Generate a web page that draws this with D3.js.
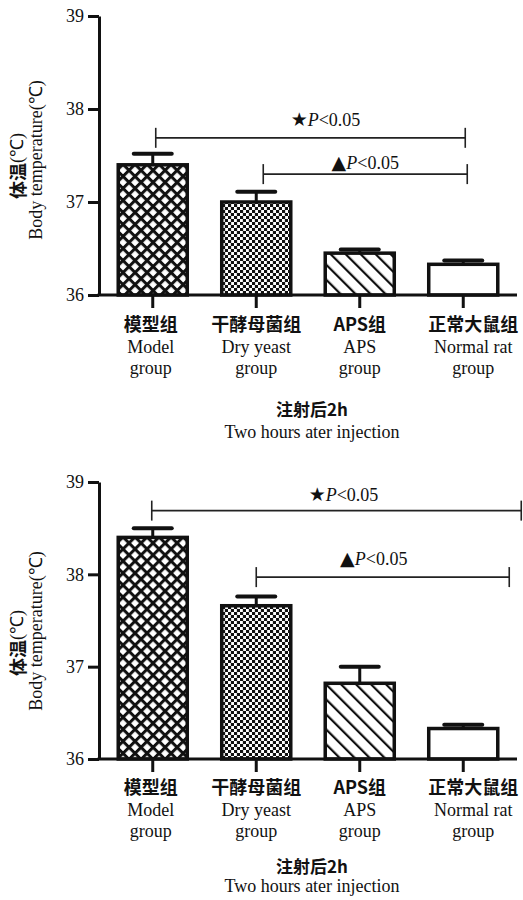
<!DOCTYPE html>
<html><head><meta charset="utf-8">
<script src="https://cdn.jsdelivr.net/npm/d3@7"></script>
<style>body{margin:0;background:#fff} svg{display:block}</style>
</head><body><svg id="c" width="523" height="900"></svg>
<script>
// ---------- data ----------
const groupKeys = ["Model", "Dry yeast", "APS", "Normal rat"];
const groupsCN = ["模型组", "干酵母菌组", "APS组", "正常大鼠组"];
const groupsEN1 = ["Model", "Dry yeast", "APS", "Normal rat"];
const groupsEN2 = ["group", "group", "group", "group"];
const yTicks = [36, 37, 38, 39];
const meansTop = [37.40, 37.00, 36.45, 36.33];
const errTop = [0.12, 0.11, 0.04, 0.04];
const meansBottom = [38.40, 37.66, 36.82, 36.33];
const errBottom = [0.10, 0.10, 0.18, 0.04];
const bracketsTop = [
  {from: "Model", to: "Normal rat", y: 37.69, sym: "★", label: "P", rest: "<0.05"},
  {from: "Dry yeast", to: "Normal rat", y: 37.30, sym: "▲", label: "P", rest: "<0.05"}
];
const bracketsBottom = [
  {from: "Model", to: "Normal rat", y: 38.69, sym: "★", label: "P", rest: "<0.05"},
  {from: "Dry yeast", to: "Normal rat", y: 37.97, sym: "▲", label: "P", rest: "<0.05"}
];
const xTitleCN = "注射后2h";
const xTitleEN = "Two hours ater injection";
const yTitleCN = "体温";
const yTitleUnit = "(℃)";
const yTitleEN = "Body temperature(℃)";

// ---------- layout ----------
const svg = d3.select("#c");
const serif = "'Liberation Serif','Times New Roman',serif";
const cjk = "'Noto Sans CJK SC','Liberation Serif',serif";
const ink = "#111";

const defs = svg.append("defs");
// diamond crosshatch
const p1 = defs.append("pattern").attr("id", "pDiamond").attr("patternUnits", "userSpaceOnUse")
  .attr("width", 8.5).attr("height", 8.5).attr("patternTransform", "translate(117,0) rotate(45)");
p1.append("rect").attr("width", 8.5).attr("height", 8.5).attr("fill", "#fff");
p1.append("rect").attr("width", 8.5).attr("height", 3).attr("fill", ink);
p1.append("rect").attr("width", 3).attr("height", 8.5).attr("fill", ink);
// fine checkerboard
const p2 = defs.append("pattern").attr("id", "pCheck").attr("patternUnits", "userSpaceOnUse")
  .attr("width", 6).attr("height", 6);
p2.append("rect").attr("width", 6).attr("height", 6).attr("fill", "#fff");
p2.append("rect").attr("width", 3).attr("height", 3).attr("fill", ink);
p2.append("rect").attr("x", 3).attr("y", 3).attr("width", 3).attr("height", 3).attr("fill", ink);
p2.append("rect").attr("x", 2.6).attr("y", 0).attr("width", 0.8).attr("height", 6).attr("fill", ink).attr("opacity", 0.35);
// diagonal hatch "\"
const p3 = defs.append("pattern").attr("id", "pHatch").attr("patternUnits", "userSpaceOnUse")
  .attr("width", 10.6).attr("height", 10.6).attr("patternTransform", "rotate(-45)");
p3.append("rect").attr("width", 10.6).attr("height", 10.6).attr("fill", "#fff");
p3.append("rect").attr("width", 2.2).attr("height", 10.6).attr("fill", ink);

const fills = ["url(#pDiamond)", "url(#pCheck)", "url(#pHatch)", "#fff"];

const x = d3.scaleBand().domain(groupKeys).range([101, 515]).paddingInner(0.333).paddingOuter(0.1665);

const charts = [
  {means: meansTop, errs: errTop, brackets: bracketsTop, yRange: [295, 16],
   bdx: [[3, 2, 15, -12], [7, 4, 0, -5]], rows: [36, 58, 79], titles: [121, 143], yMid: [160, 166]},
  {means: meansBottom, errs: errBottom, brackets: bracketsBottom, yRange: [759, 482],
   bdx: [[-1, 58, 7, -10], [0, 46, -9, -12]], rows: [35, 57, 78], titles: [114, 133], yMid: [631, 643]}
];

charts.forEach(cfg => {
  const y = d3.scaleLinear().domain([36, 39]).range(cfg.yRange);
  const base = y(36);
  const g = svg.append("g");

  // bars
  g.selectAll("rect.bar").data(cfg.means).join("rect").attr("class", "bar")
    .attr("x", (d, i) => x(groupKeys[i]))
    .attr("width", x.bandwidth())
    .attr("y", d => y(d))
    .attr("height", d => base - y(d))
    .attr("fill", (d, i) => fills[i])
    .attr("stroke", ink).attr("stroke-width", 3.5);

  // error bars
  const cx = i => x(groupKeys[i]) + x.bandwidth() / 2;
  g.selectAll("line.stem").data(cfg.means).join("line")
    .attr("x1", (d, i) => cx(i)).attr("x2", (d, i) => cx(i))
    .attr("y1", d => y(d)).attr("y2", (d, i) => y(d + cfg.errs[i]))
    .attr("stroke", ink).attr("stroke-width", 3);
  g.selectAll("line.cap").data(cfg.means).join("line")
    .attr("x1", (d, i) => cx(i) - 19).attr("x2", (d, i) => cx(i) + 19)
    .attr("y1", (d, i) => y(d + cfg.errs[i])).attr("y2", (d, i) => y(d + cfg.errs[i]))
    .attr("stroke", ink).attr("stroke-width", 4).attr("stroke-linecap", "round");

  // y axis
  const ya = g.append("g").attr("transform", "translate(99,0)")
    .call(d3.axisLeft(y).tickValues(yTicks).tickFormat(d3.format("d")).tickSize(11).tickSizeOuter(0).tickPadding(4));
  ya.select(".domain").attr("stroke", ink).attr("stroke-width", 3);
  ya.selectAll(".tick line").attr("stroke", ink).attr("stroke-width", 3);
  ya.selectAll(".tick text").attr("font-family", serif).attr("font-size", 18).attr("fill", ink);

  // x axis
  const xa = g.append("g").attr("transform", `translate(0,${base})`)
    .call(d3.axisBottom(x).tickSize(13).tickSizeOuter(0).tickFormat(""));
  xa.select(".domain").remove();
  xa.selectAll(".tick line").attr("stroke", ink).attr("stroke-width", 3);
  g.append("line").attr("x1", 97.5).attr("x2", 517).attr("y1", base).attr("y2", base)
    .attr("stroke", ink).attr("stroke-width", 3);

  // category labels
  const lab = g.selectAll("g.cat").data(groupKeys).join("g")
    .attr("transform", (d, i) => `translate(${cx(i) + (i === 3 ? 10 : 0) - (i === 0 ? 2 : 0)},${base})`)
    .attr("text-anchor", "middle").attr("fill", ink);
  lab.append("text").attr("y", cfg.rows[0]).attr("font-family", cjk).attr("font-weight", 700)
    .attr("font-size", 18).text((d, i) => groupsCN[i]);
  lab.append("text").attr("y", cfg.rows[1]).attr("font-family", serif).attr("font-size", 18).text((d, i) => groupsEN1[i]);
  lab.append("text").attr("y", cfg.rows[2]).attr("font-family", serif).attr("font-size", 18).text((d, i) => groupsEN2[i]);

  // x title
  g.append("text").attr("x", 312).attr("y", base + cfg.titles[0]).attr("text-anchor", "middle")
    .attr("font-family", cjk).attr("font-weight", 700).attr("font-size", 17).attr("fill", ink).text(xTitleCN);
  g.append("text").attr("x", 312).attr("y", base + cfg.titles[1]).attr("text-anchor", "middle")
    .attr("font-family", serif).attr("font-size", 18).attr("fill", ink).text(xTitleEN);

  // y titles
  const yt = g.append("text").attr("transform", `translate(17,${cfg.yMid[1]}) rotate(-90)`)
    .attr("text-anchor", "middle").attr("dominant-baseline", "central")
    .attr("font-size", 18).attr("fill", ink);
  yt.append("tspan").attr("font-family", cjk).attr("font-weight", 700).text(yTitleCN);
  yt.append("tspan").attr("font-family", serif).text(yTitleUnit);
  g.append("text").attr("transform", `translate(36,${cfg.yMid[0]}) rotate(-90)`)
    .attr("text-anchor", "middle").attr("dominant-baseline", "central")
    .attr("font-family", serif).attr("font-size", 18).attr("fill", ink).text(yTitleEN);

  // significance brackets
  cfg.brackets.forEach((b, k) => {
    const [d1, d2, ldx, ldy] = cfg.bdx[k];
    const xa1 = x(b.from) + x.bandwidth() / 2 + d1;
    const xa2 = x(b.to) + x.bandwidth() / 2 + d2;
    const yy = y(b.y);
    const bg = g.append("g").attr("stroke", "#222").attr("stroke-width", 1.6);
    bg.append("line").attr("x1", xa1).attr("x2", xa2).attr("y1", yy).attr("y2", yy);
    bg.append("line").attr("x1", xa1).attr("x2", xa1).attr("y1", yy - 10).attr("y2", yy + 10);
    bg.append("line").attr("x1", xa2).attr("x2", xa2).attr("y1", yy - 10).attr("y2", yy + 10);
    const t = g.append("text").attr("x", (xa1 + xa2) / 2 + ldx).attr("y", yy + ldy)
      .attr("text-anchor", "middle").attr("font-family", serif).attr("font-size", 18).attr("fill", ink);
    t.append("tspan").attr("font-family", "'DejaVu Sans',sans-serif").attr("font-size", 19).text(b.sym);
    t.append("tspan").attr("font-style", "italic").text(b.label);
    t.append("tspan").text(b.rest);
  });
});
</script>
</body></html>
